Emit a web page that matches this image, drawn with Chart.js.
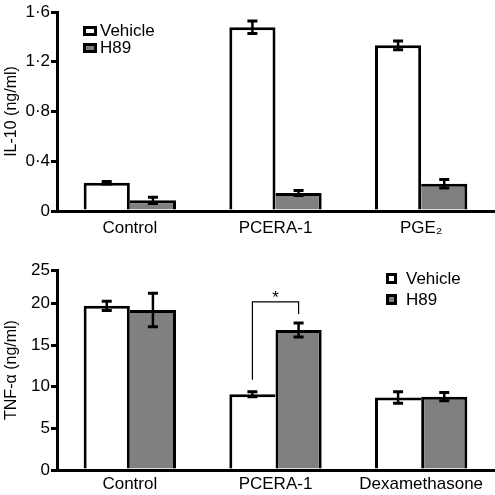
<!DOCTYPE html>
<html>
<head>
<meta charset="utf-8">
<script src="https://cdn.jsdelivr.net/npm/chart.js@4.4.0/dist/chart.umd.min.js"></script>
<style>
  html, body { margin: 0; padding: 0; background: #fff; }
  #wrap { position: relative; width: 495px; height: 495px; font-family: 'Liberation Sans', Arial, sans-serif; }
  .panel { position: absolute; left: 0; width: 495px; }
  .legend { position: absolute; font-size: 17px; color: #000; }
  .legend .row { display: flex; align-items: center; }
  .legend .key { box-sizing: border-box; border: 3px solid #000; }
</style>
</head>
<body>
<div id="wrap">
  <div class="panel" style="top:0;height:247px"><canvas id="il10"></canvas></div>
  <div class="panel" style="top:247px;height:248px"><canvas id="tnf"></canvas></div>
  <div class="legend" id="legTop" style="left:83px;top:22px"></div>
  <div class="legend" id="legBot" style="left:386px;top:268px"></div>
</div>
<script>
// series
const SERIES = ['Vehicle', 'H89'];
const SERIES_COLORS = ['#ffffff', '#808080'];

// IL-10 panel
const IL10_CATEGORIES = ['Control', 'PCERA-1', 'PGE\u2082'];
const IL10_VEHICLE = [0.228, 1.477, 1.332];
const IL10_VEHICLE_ERR = [0.01, 0.05, 0.035];
const IL10_H89 = [0.086, 0.145, 0.219];
const IL10_H89_ERR = [0.025, 0.02, 0.035];
const IL10_TICKS = [0, 0.4, 0.8, 1.2, 1.6];
const IL10_TICK_LABELS = ['0', '0·4', '0·8', '1·2', '1·6'];

// TNF-alpha panel
const TNF_CATEGORIES = ['Control', 'PCERA-1', 'Dexamethasone'];
const TNF_VEHICLE = [19.7, 9.1, 8.7];
const TNF_VEHICLE_ERR = [0.55, 0.3, 0.7];
const TNF_H89 = [19.2, 16.8, 8.8];
const TNF_H89_ERR = [2.0, 0.85, 0.5];
const TNF_TICKS = [0, 5, 10, 15, 20, 25];
// in the source figure the "25" tick sits at the axis top, which is ~24 on the 0-20 spacing
const TNF_AXIS_TOP = 24;
const SIG_GROUP = 1; // PCERA-1 vehicle vs H89
const SIG_LABEL = '*';

const FONT = "'Liberation Sans', Arial, sans-serif";

// error bars drawn over the bars
const errorBars = {
    id: 'errorBars',
    afterDatasetsDraw(chart) {
        const { ctx, scales: { y } } = chart;
        ctx.save();
        ctx.strokeStyle = '#000';
        chart.data.datasets.forEach((ds, i) => {
            chart.getDatasetMeta(i).data.forEach((bar, j) => {
                const hi = y.getPixelForValue(ds.data[j] + ds.errors[j]);
                const lo = y.getPixelForValue(ds.data[j] - ds.errors[j]);
                ctx.lineWidth = 2.5;
                ctx.beginPath();
                ctx.moveTo(bar.x, hi); ctx.lineTo(bar.x, lo);
                ctx.stroke();
                ctx.lineWidth = 3;
                ctx.beginPath();
                ctx.moveTo(bar.x - 5, hi); ctx.lineTo(bar.x + 5, hi);
                ctx.moveTo(bar.x - 5, lo); ctx.lineTo(bar.x + 5, lo);
                ctx.stroke();
            });
        });
        ctx.restore();
    }
};

// the taller bar of a pair draws the shared side, so the middle line stays single width
function pairBorder(a, b) {
    return ctx => {
        const j = ctx.dataIndex;
        const first = ctx.datasetIndex === 0;
        const mine = first ? a[j] : b[j];
        const other = first ? b[j] : a[j];
        const shared = mine >= other ? 3 : 0;
        return first ? { top: 3, left: 3, right: shared, bottom: 0 }
                     : { top: 3, left: shared, right: 3, bottom: 0 };
    };
}

function makeDatasets(vals, errs) {
    const border = pairBorder(vals[0], vals[1]);
    return SERIES.map((name, i) => ({
        label: name,
        data: vals[i],
        errors: errs[i],
        backgroundColor: SERIES_COLORS[i],
        borderColor: '#000',
        borderWidth: border,
        borderSkipped: false,
        categoryPercentage: 0.634,
        barPercentage: 1
    }));
}

function makeOptions(cfg) {
    return {
        responsive: true,
        maintainAspectRatio: false,
        animation: false,
        layout: { padding: { top: cfg.padTop, right: 1, left: 0, bottom: 0 } },
        plugins: { legend: { display: false }, tooltip: { enabled: false } },
        scales: {
            x: {
                grid: { display: false, drawTicks: false },
                border: { display: true, color: '#000', width: 3 },
                ticks: { color: '#000', font: { family: FONT, size: 17 }, padding: cfg.labelPad, maxRotation: 0, autoSkip: false },
                afterFit: s => { s.height = cfg.xHeight; }
            },
            y: {
                min: 0,
                max: cfg.yMax,
                afterBuildTicks: s => { s.ticks = cfg.tickValues.map(v => ({ value: v })); },
                grid: { display: true, drawOnChartArea: false, drawTicks: true, tickLength: 6, lineWidth: 3, color: '#000' },
                border: { display: true, color: '#000', width: 3 },
                ticks: { color: '#000', font: { family: FONT, size: 17 }, padding: 1,
                         callback: (v, i) => cfg.tickLabels[i] },
                title: { display: true, text: cfg.title, color: '#000', font: { family: FONT, size: 16 }, padding: { top: 2, bottom: 0 } },
                afterFit: s => { s.width = 57; }
            }
        }
    };
}

new Chart(document.getElementById('il10'), {
    type: 'bar',
    data: {
        labels: IL10_CATEGORIES,
        datasets: makeDatasets([IL10_VEHICLE, IL10_H89], [IL10_VEHICLE_ERR, IL10_H89_ERR])
    },
    options: makeOptions({
        padTop: 12, xHeight: 36, labelPad: 7, yMax: 1.6,
        tickValues: IL10_TICKS, tickLabels: IL10_TICK_LABELS, title: 'IL-10 (ng/ml)'
    }),
    plugins: [errorBars]
});

const sigBracket = {
    id: 'sigBracket',
    afterDatasetsDraw(chart) {
        const { ctx, scales: { y } } = chart;
        const j = SIG_GROUP;
        const a = chart.getDatasetMeta(0).data[j];
        const b = chart.getDatasetMeta(1).data[j];
        const yA = y.getPixelForValue(TNF_VEHICLE[j] + TNF_VEHICLE_ERR[j]) - 12;
        const yB = y.getPixelForValue(TNF_H89[j] + TNF_H89_ERR[j]) - 9;
        const yTop = Math.min(yA, yB) - 12;
        ctx.save();
        ctx.strokeStyle = '#000';
        ctx.lineWidth = 1.2;
        ctx.beginPath();
        ctx.moveTo(a.x, yA); ctx.lineTo(a.x, yTop); ctx.lineTo(b.x, yTop); ctx.lineTo(b.x, yB);
        ctx.stroke();
        ctx.fillStyle = '#000';
        ctx.font = '17px ' + FONT;
        ctx.textAlign = 'center';
        ctx.textBaseline = 'alphabetic';
        ctx.fillText(SIG_LABEL, (a.x + b.x) / 2, yTop + 1);
        ctx.restore();
    }
};

new Chart(document.getElementById('tnf'), {
    type: 'bar',
    data: {
        labels: TNF_CATEGORIES,
        datasets: makeDatasets([TNF_VEHICLE, TNF_H89], [TNF_VEHICLE_ERR, TNF_H89_ERR])
    },
    options: makeOptions({
        padTop: 23, xHeight: 25, labelPad: 4, yMax: TNF_AXIS_TOP,
        tickValues: TNF_TICKS.map(v => Math.min(v, TNF_AXIS_TOP)), tickLabels: TNF_TICKS.map(String),
        title: 'TNF-α (ng/ml)'
    }),
    plugins: [errorBars, sigBracket]
});

// legends
function buildLegend(el, keyW, keyH, gap, rowH) {
    el.innerHTML = SERIES.map((name, i) => `
        <div class="row" style="height:${rowH}px">
            <span class="key" style="width:${keyW}px;height:${keyH}px;background:${SERIES_COLORS[i]};margin-right:${gap}px"></span>
            <span>${name}</span>
        </div>`).join('');
}
buildLegend(document.getElementById('legTop'), 14, 10, 3, 17);
buildLegend(document.getElementById('legBot'), 11, 11, 9, 21);
</script>
</body>
</html>
